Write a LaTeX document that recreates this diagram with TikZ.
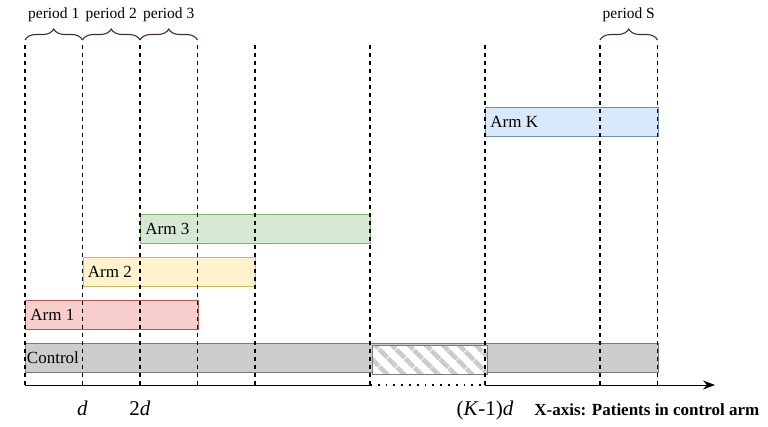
\documentclass[tikz,border=0pt]{standalone}
\usepackage{fontspec}
\setmainfont{Liberation Serif}
\usetikzlibrary{arrows.meta, positioning, decorations.pathreplacing, patterns.meta}

\definecolor{redfill}{HTML}{F8CECC}
\definecolor{reddraw}{HTML}{B85450}
\definecolor{yellowfill}{HTML}{FFF2CC}
\definecolor{yellowdraw}{HTML}{D6B656}
\definecolor{greenfill}{HTML}{D5E8D4}
\definecolor{greendraw}{HTML}{82B366}
\definecolor{bluefill}{HTML}{DAE8FC}
\definecolor{bluedraw}{HTML}{6C8EBF}
\definecolor{ctrlfill}{HTML}{CCCCCC}
\definecolor{ctrldraw}{HTML}{7A7A7A}
\definecolor{bracecol}{HTML}{4A2C2C}

\begin{document}
\begin{tikzpicture}[
            x = 1pt, y = -1pt, % one unit is one pixel, y downwards
            > = {Stealth[length=12pt, width=9pt]}, % arrow head style
            font = \fontsize{15.5}{18}\selectfont,
            line width = 0.9pt
        ]

        \tikzstyle{bar}=[
            draw,
            line width = 1.2pt,
            minimum height = 29pt,
            inner sep = 0pt,
            anchor = north west
        ]
        \tikzstyle{armlabel}=[anchor = west, inner sep = 0pt, font = \fontsize{17}{20}\selectfont]
        \tikzstyle{grid}=[line width = 1.3pt, dash pattern = on 4pt off 4pt]
        \tikzstyle{period}=[
            decorate,
            decoration = {brace, amplitude = 11pt},
            line width = 1.1pt,
            draw = bracecol
        ]
        \tikzstyle{axislabel}=[inner sep = 0pt, font = \fontsize{21}{24}\selectfont]

        \useasboundingbox (0,0) rectangle (768,426);

	% bars
	\node[bar, fill=ctrlfill, draw=ctrldraw, minimum width=632.5pt] (control) at (25,343) {};
	\node[bar, draw=ctrldraw, minimum width=115pt, preaction={fill=white},
	      pattern={Lines[angle=-45, distance=13pt, line width=5pt]}, pattern color=ctrlfill] (gap) at (370,343) {};
	\node[bar, fill=redfill, draw=reddraw, minimum width=172.5pt] (arm1) at (25,300) {};
	\node[bar, fill=yellowfill, draw=yellowdraw, minimum width=172.5pt] (arm2) at (82.5,257) {};
	\node[bar, fill=greenfill, draw=greendraw, minimum width=230pt] (arm3) at (140,214) {};
	\node[bar, fill=bluefill, draw=bluedraw, minimum width=172.5pt] (armK) at (485,107) {};

	\node[armlabel, xshift=1.5pt] (lcontrol) at (control.west) {Control};
	\node[armlabel, xshift=5pt] (l1) at (arm1.west) {Arm 1};
	\node[armlabel, xshift=5pt] (l2) at (arm2.west) {Arm 2};
	\node[armlabel, xshift=5pt] (l3) at (arm3.west) {Arm 3};
	\node[armlabel, xshift=5pt] (lK) at (armK.west) {Arm K};

	% period borders
	\foreach \n/\x in {0/25, 1/82.5, 2/140, 3/197.5, 4/255, 5/370, 6/485, 7/600, 8/657.5} {
	    \coordinate (t\n) at (\x,45);
	    \coordinate (b\n) at (\x,385);
	}
	\foreach \n in {0,...,8}
	    \draw[grid] (t\n) -- (b\n);

	% braces
	\draw[period, draw=black!80] ([yshift=5pt]t0) -- node[above=18pt, inner sep=0pt] (per1) {period 1} ([yshift=5pt]t1);
	\draw[period] ([yshift=5pt]t1) -- node[above=18pt, inner sep=0pt] (per2) {period 2} ([yshift=5pt]t2);
	\draw[period] ([yshift=5pt]t2) -- node[above=18pt, inner sep=0pt] (per3) {period 3} ([yshift=5pt]t3);
	\draw[period] ([yshift=5pt]t7) -- node[above=18pt, inner sep=0pt] (perS) {period S} ([yshift=5pt]t8);

	% x-axis
	\coordinate (xend) at (715,385);
	\draw (b0) -- (b5);
	\draw[line width=1.8pt, dash pattern=on 1.8pt off 6pt] (b5) -- (b6);
	\draw[->] (b6) -- (xend);

	\node[axislabel, below=15pt of b1] (ld) {\textit{d}};
	\node[axislabel, below=15pt of b2] (l2d) {2\textit{d}};
	\node[axislabel, below=15pt of b6] (lKd) {(\textit{K}-1)\textit{d}};
	\node[right=20pt of lKd, inner sep=0pt, font=\bfseries\fontsize{17}{20}\selectfont] (xlabel) {X-axis: Patients in control arm};

    \end{tikzpicture}
\end{document}
